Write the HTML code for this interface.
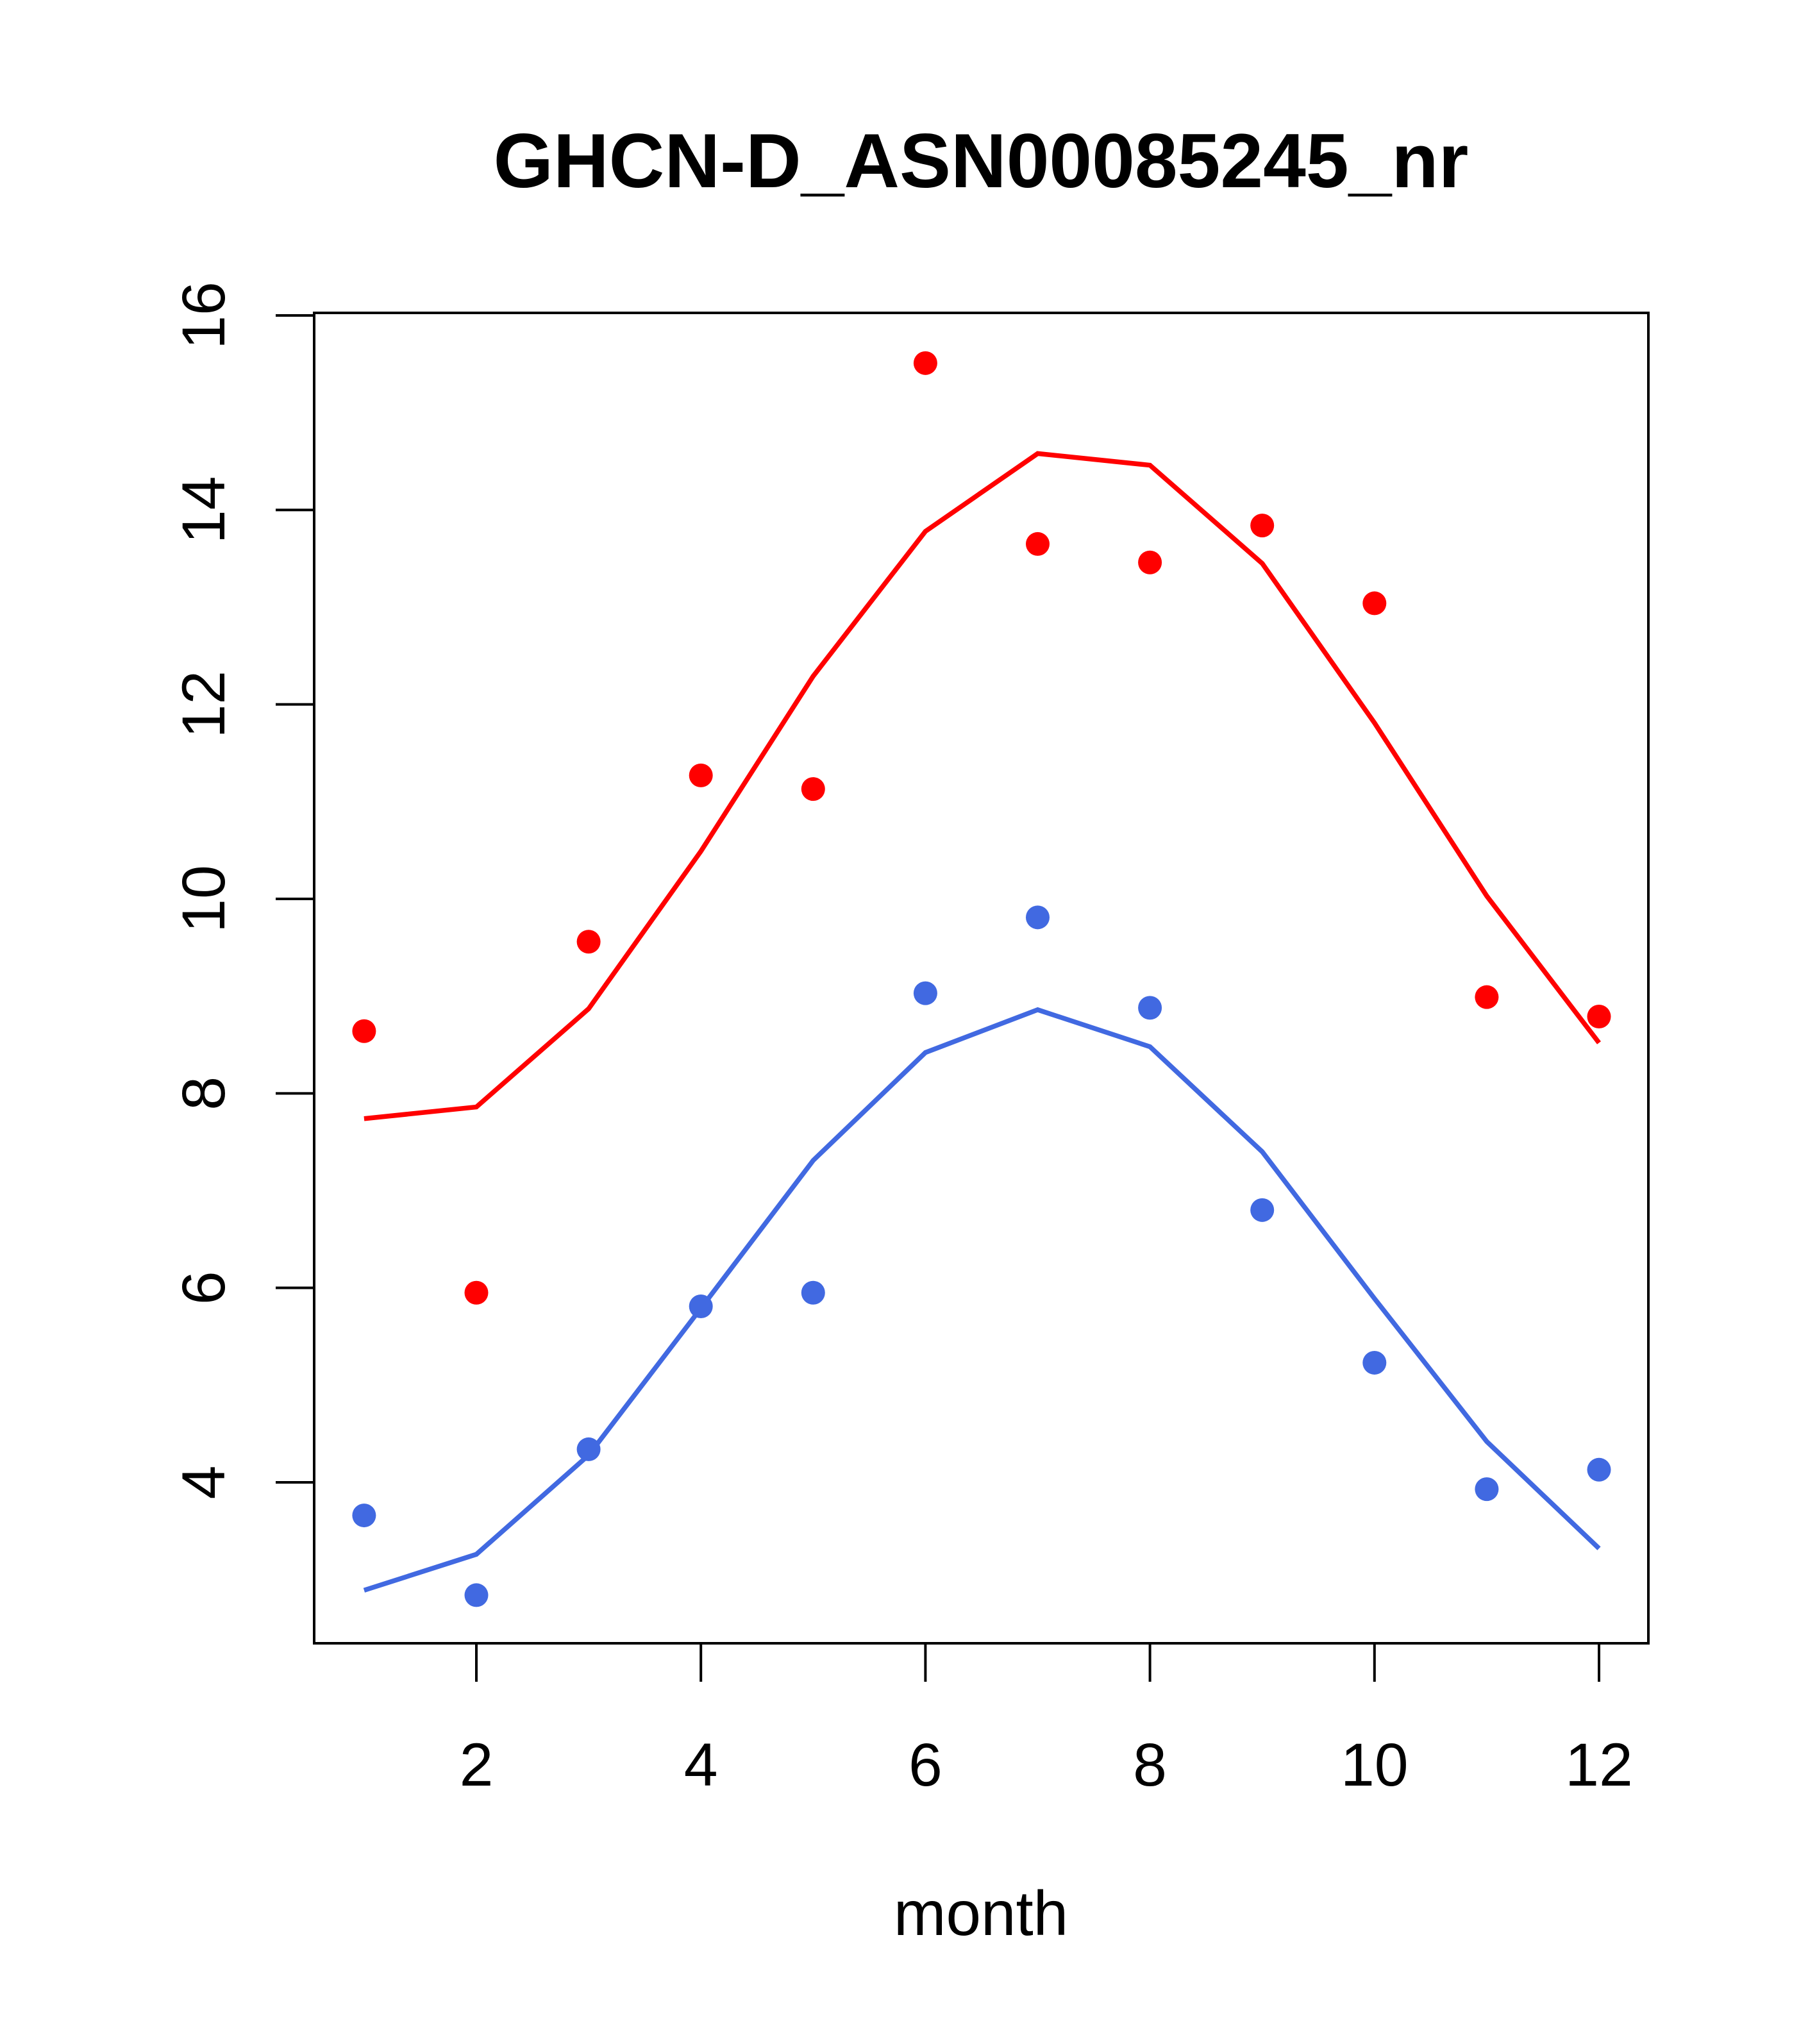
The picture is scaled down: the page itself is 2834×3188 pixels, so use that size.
<!DOCTYPE html>
<html><head><meta charset="utf-8"><style>html,body{margin:0;padding:0;background:#fff}svg{display:block}</style></head>
<body>
<svg id="chart" width="2834" height="3188" viewBox="0 0 2834 3188" xmlns="http://www.w3.org/2000/svg" font-family="Liberation Sans, Arial, sans-serif">
<rect width="2834" height="3188" fill="#fff"/>
<text x="1530" y="292" font-size="120" font-weight="bold" text-anchor="middle">GHCN-D_ASN00085245_nr</text>
<text x="1530" y="3018" font-size="98" text-anchor="middle">month</text>
<rect x="490" y="488" width="2081" height="2075" fill="none" stroke="#000" stroke-width="4"/>
<g id="axes"></g>
<g id="series"></g>
</svg>
<script>
const months=[1,2,3,4,5,6,7,8,9,10,11,12];
const redPoints=[8.64,5.95,9.56,11.27,11.13,15.51,13.65,13.46,13.84,13.04,8.99,8.79];
const redLine=[7.74,7.86,8.87,10.49,12.29,13.78,14.58,14.46,13.45,11.81,10.03,8.52];
const bluePoints=[3.66,2.84,4.34,5.81,5.95,9.03,9.81,8.88,6.80,5.23,3.93,4.13];
const blueLine=[2.89,3.26,4.28,5.79,7.31,8.42,8.86,8.48,7.40,5.89,4.42,3.32];
const xTicks=[2,4,6,8,10,12];
const yTicks=[4,6,8,10,12,14,16];
const NS='http://www.w3.org/2000/svg';
const xs=m=>743+(m-2)*(2494-743)/10;
const ys=v=>2312-(v-4)*(2312-492)/12;
const axes=document.getElementById('axes'),ser=document.getElementById('series');
function mk(tag,attrs,parent){const e=document.createElementNS(NS,tag);for(const k in attrs)e.setAttribute(k,attrs[k]);parent.appendChild(e);return e;}
xTicks.forEach(t=>{
 const l=mk('line',{x1:xs(t),x2:xs(t),y1:2563,y2:2623,stroke:'#000','stroke-width':4},axes);
 
 
 const tx=mk('text',{x:xs(t),y:2785,'font-size':95,'text-anchor':'middle'},axes);
 tx.textContent=t;
 
 
});
yTicks.forEach(t=>{
 const l=mk('line',{x1:430,x2:490,y1:ys(t),y2:ys(t),stroke:'#000','stroke-width':4},axes);
 
 
 const tx=mk('text',{x:350,y:ys(t),'font-size':95,'text-anchor':'middle',transform:`rotate(-90 350 ${ys(t)})`},axes);
 tx.textContent=t;
 
 
});
function line(vals,color,name){
 const p=mk('polyline',{points:months.map((m,i)=>xs(m)+','+ys(vals[i])).join(' '),fill:'none',stroke:color,'stroke-width':7.5},ser);
 
 
}
function pts(vals,color,name){
 months.forEach((m,i)=>{
  const c=mk('circle',{cx:xs(m),cy:ys(vals[i]),r:18.5,fill:color},ser);
  
  
 });
}
line(redLine,'#ff0000','red-line');
line(blueLine,'#4169e1','blue-line');
pts(redPoints,'#ff0000','red-point');
pts(bluePoints,'#4169e1','blue-point');
</script>
</body></html>
